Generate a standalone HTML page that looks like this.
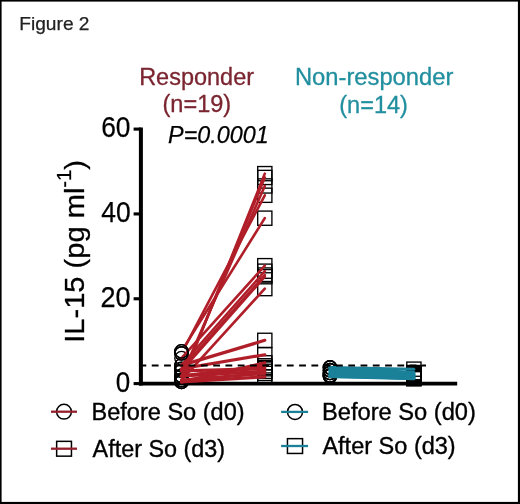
<!DOCTYPE html>
<html><head><meta charset="utf-8"><style>
html,body{margin:0;padding:0;background:#fff;}
body{width:520px;height:504px;overflow:hidden;position:relative;}
svg{position:absolute;left:0;top:0;will-change:transform;}
text{font-family:"Liberation Sans",sans-serif;}
</style></head><body>
<svg width="520" height="504" viewBox="0 0 520 504">
<rect x="0" y="0" width="520" height="504" fill="#fff"/>
<text x="19.29" y="29.5" font-size="19" fill="#222" stroke="#222" stroke-width="0.25" textLength="70.22" lengthAdjust="spacingAndGlyphs">Figure 2</text>
<text x="139.16" y="84.5" font-size="23" fill="#7a2530" stroke="#7a2530" stroke-width="0.3" textLength="114.88" lengthAdjust="spacingAndGlyphs">Responder</text>
<text x="162.48" y="112.3" font-size="23" fill="#7a2530" stroke="#7a2530" stroke-width="0.3" textLength="68.67" lengthAdjust="spacingAndGlyphs">(n=19)</text>
<text x="168.10" y="143.4" font-size="23" font-style="italic" fill="#000" stroke="#000" stroke-width="0.25" textLength="100.66" lengthAdjust="spacingAndGlyphs">P=0.0001</text>
<text x="294.94" y="84.5" font-size="23" fill="#218f9f" stroke="#218f9f" stroke-width="0.3" textLength="158.40" lengthAdjust="spacingAndGlyphs">Non-responder</text>
<text x="339.28" y="112.5" font-size="23" fill="#218f9f" stroke="#218f9f" stroke-width="0.3" textLength="68.67" lengthAdjust="spacingAndGlyphs">(n=14)</text>
<text x="91.55" y="419.9" font-size="23" fill="#000" stroke="#000" stroke-width="0.35" textLength="153.05" lengthAdjust="spacingAndGlyphs">Before So (d0)</text>
<text x="92.60" y="456.8" font-size="23" fill="#000" stroke="#000" stroke-width="0.35" textLength="132.51" lengthAdjust="spacingAndGlyphs">After So (d3)</text>
<text x="321.94" y="420.4" font-size="23" fill="#000" stroke="#000" stroke-width="0.35" textLength="153.97" lengthAdjust="spacingAndGlyphs">Before So (d0)</text>
<text x="322.40" y="454.4" font-size="23" fill="#000" stroke="#000" stroke-width="0.35" textLength="133.32" lengthAdjust="spacingAndGlyphs">After So (d3)</text>
<text x="101.22" y="137.0" font-size="30" fill="#000" stroke="#000" stroke-width="0.25" textLength="29.31" lengthAdjust="spacingAndGlyphs">60</text>
<text x="101.20" y="221.9" font-size="30" fill="#000" stroke="#000" stroke-width="0.25" textLength="29.43" lengthAdjust="spacingAndGlyphs">40</text>
<text x="100.50" y="307.2" font-size="30" fill="#000" stroke="#000" stroke-width="0.25" textLength="30.14" lengthAdjust="spacingAndGlyphs">20</text>
<text x="115.73" y="391.9" font-size="30" fill="#000" stroke="#000" stroke-width="0.25" textLength="14.46" lengthAdjust="spacingAndGlyphs">0</text>
<text transform="translate(83.6,342.7) rotate(-90)" font-size="28" fill="#000" stroke="#000" stroke-width="0.3" textLength="182.73" lengthAdjust="spacingAndGlyphs">IL-15 (pg ml<tspan font-size="19.5" dy="-12.8">-1</tspan><tspan dy="12.8">)</tspan></text>
<line x1="140.9" y1="127.4" x2="140.9" y2="385.5" stroke="#000" stroke-width="4"/>
<line x1="138.9" y1="383.6" x2="457.2" y2="383.6" stroke="#000" stroke-width="3.8"/>
<line x1="133.6" y1="129.10" x2="141" y2="129.10" stroke="#000" stroke-width="3.1"/>
<line x1="133.6" y1="213.93" x2="141" y2="213.93" stroke="#000" stroke-width="3.1"/>
<line x1="133.6" y1="298.77" x2="141" y2="298.77" stroke="#000" stroke-width="3.1"/>
<line x1="133.6" y1="383.60" x2="141" y2="383.60" stroke="#000" stroke-width="3.1"/>
<circle cx="181.5" cy="381.90" r="6.7" fill="none" stroke="#000" stroke-width="1.35"/>
<circle cx="181.5" cy="380.21" r="6.7" fill="none" stroke="#000" stroke-width="1.35"/>
<circle cx="181.5" cy="375.97" r="6.7" fill="none" stroke="#000" stroke-width="1.35"/>
<circle cx="181.5" cy="353.48" r="6.7" fill="none" stroke="#000" stroke-width="1.35"/>
<circle cx="181.5" cy="351.36" r="6.7" fill="none" stroke="#000" stroke-width="1.35"/>
<circle cx="181.5" cy="358.15" r="6.7" fill="none" stroke="#000" stroke-width="1.35"/>
<circle cx="181.5" cy="365.36" r="6.7" fill="none" stroke="#000" stroke-width="1.35"/>
<circle cx="181.5" cy="368.75" r="6.7" fill="none" stroke="#000" stroke-width="1.35"/>
<circle cx="181.5" cy="370.88" r="6.7" fill="none" stroke="#000" stroke-width="1.35"/>
<circle cx="181.5" cy="380.21" r="6.7" fill="none" stroke="#000" stroke-width="1.35"/>
<circle cx="181.5" cy="365.36" r="6.7" fill="none" stroke="#000" stroke-width="1.35"/>
<circle cx="181.5" cy="368.75" r="6.7" fill="none" stroke="#000" stroke-width="1.35"/>
<circle cx="181.5" cy="381.90" r="6.7" fill="none" stroke="#000" stroke-width="1.35"/>
<circle cx="181.5" cy="375.97" r="6.7" fill="none" stroke="#000" stroke-width="1.35"/>
<circle cx="181.5" cy="375.97" r="6.7" fill="none" stroke="#000" stroke-width="1.35"/>
<circle cx="181.5" cy="370.88" r="6.7" fill="none" stroke="#000" stroke-width="1.35"/>
<circle cx="181.5" cy="375.97" r="6.7" fill="none" stroke="#000" stroke-width="1.35"/>
<circle cx="181.5" cy="380.21" r="6.7" fill="none" stroke="#000" stroke-width="1.35"/>
<circle cx="181.5" cy="381.90" r="6.7" fill="none" stroke="#000" stroke-width="1.35"/>
<rect x="257.70" y="166.54" width="14.20" height="14.20" fill="none" stroke="#000" stroke-width="1.35"/>
<rect x="257.70" y="170.35" width="14.20" height="14.20" fill="none" stroke="#000" stroke-width="1.35"/>
<rect x="257.70" y="178.84" width="14.20" height="14.20" fill="none" stroke="#000" stroke-width="1.35"/>
<rect x="257.70" y="188.17" width="14.20" height="14.20" fill="none" stroke="#000" stroke-width="1.35"/>
<rect x="257.70" y="211.08" width="14.20" height="14.20" fill="none" stroke="#000" stroke-width="1.35"/>
<rect x="257.70" y="258.58" width="14.20" height="14.20" fill="none" stroke="#000" stroke-width="1.35"/>
<rect x="257.70" y="264.10" width="14.20" height="14.20" fill="none" stroke="#000" stroke-width="1.35"/>
<rect x="257.70" y="267.91" width="14.20" height="14.20" fill="none" stroke="#000" stroke-width="1.35"/>
<rect x="257.70" y="269.61" width="14.20" height="14.20" fill="none" stroke="#000" stroke-width="1.35"/>
<rect x="257.70" y="281.49" width="14.20" height="14.20" fill="none" stroke="#000" stroke-width="1.35"/>
<rect x="257.70" y="333.24" width="14.20" height="14.20" fill="none" stroke="#000" stroke-width="1.35"/>
<rect x="257.70" y="347.66" width="14.20" height="14.20" fill="none" stroke="#000" stroke-width="1.35"/>
<rect x="257.70" y="355.72" width="14.20" height="14.20" fill="none" stroke="#000" stroke-width="1.35"/>
<rect x="257.70" y="358.69" width="14.20" height="14.20" fill="none" stroke="#000" stroke-width="1.35"/>
<rect x="257.70" y="360.38" width="14.20" height="14.20" fill="none" stroke="#000" stroke-width="1.35"/>
<rect x="257.70" y="361.65" width="14.20" height="14.20" fill="none" stroke="#000" stroke-width="1.35"/>
<rect x="257.70" y="364.20" width="14.20" height="14.20" fill="none" stroke="#000" stroke-width="1.35"/>
<rect x="257.70" y="366.32" width="14.20" height="14.20" fill="none" stroke="#000" stroke-width="1.35"/>
<rect x="257.70" y="369.71" width="14.20" height="14.20" fill="none" stroke="#000" stroke-width="1.35"/>
<line x1="181.50" y1="381.90" x2="264.8" y2="173.64" stroke="#b01f29" stroke-width="2.6" stroke-linecap="round"/>
<line x1="181.50" y1="380.21" x2="264.8" y2="177.45" stroke="#b01f29" stroke-width="2.6" stroke-linecap="round"/>
<line x1="181.50" y1="375.97" x2="264.8" y2="185.94" stroke="#b01f29" stroke-width="2.6" stroke-linecap="round"/>
<line x1="184.94" y1="346.96" x2="264.8" y2="195.27" stroke="#b01f29" stroke-width="2.6" stroke-linecap="round"/>
<line x1="185.41" y1="345.11" x2="264.8" y2="218.18" stroke="#b01f29" stroke-width="2.6" stroke-linecap="round"/>
<line x1="181.50" y1="358.15" x2="264.8" y2="265.68" stroke="#b01f29" stroke-width="2.6" stroke-linecap="round"/>
<line x1="181.50" y1="365.36" x2="264.8" y2="271.20" stroke="#b01f29" stroke-width="2.6" stroke-linecap="round"/>
<line x1="181.50" y1="368.75" x2="264.8" y2="275.01" stroke="#b01f29" stroke-width="2.6" stroke-linecap="round"/>
<line x1="181.50" y1="370.88" x2="264.8" y2="276.71" stroke="#b01f29" stroke-width="2.6" stroke-linecap="round"/>
<line x1="181.50" y1="380.21" x2="264.8" y2="288.59" stroke="#b01f29" stroke-width="2.6" stroke-linecap="round"/>
<line x1="181.50" y1="365.36" x2="264.8" y2="340.34" stroke="#b01f29" stroke-width="3.2" stroke-linecap="round"/>
<line x1="181.50" y1="368.75" x2="264.8" y2="354.76" stroke="#b01f29" stroke-width="3.2" stroke-linecap="round"/>
<line x1="181.50" y1="381.90" x2="264.8" y2="362.82" stroke="#b01f29" stroke-width="3.2" stroke-linecap="round"/>
<line x1="181.50" y1="375.97" x2="264.8" y2="365.79" stroke="#b01f29" stroke-width="3.2" stroke-linecap="round"/>
<line x1="181.50" y1="375.97" x2="264.8" y2="367.48" stroke="#b01f29" stroke-width="3.2" stroke-linecap="round"/>
<line x1="181.50" y1="370.88" x2="264.8" y2="368.75" stroke="#b01f29" stroke-width="3.2" stroke-linecap="round"/>
<line x1="181.50" y1="375.97" x2="264.8" y2="371.30" stroke="#b01f29" stroke-width="3.2" stroke-linecap="round"/>
<line x1="181.50" y1="380.21" x2="264.8" y2="373.42" stroke="#b01f29" stroke-width="3.2" stroke-linecap="round"/>
<line x1="181.50" y1="381.90" x2="264.8" y2="376.81" stroke="#b01f29" stroke-width="3.2" stroke-linecap="round"/>
<circle cx="181.5" cy="353.48" r="6.7" fill="none" stroke="#000" stroke-width="1.35"/>
<circle cx="181.5" cy="351.36" r="6.7" fill="none" stroke="#000" stroke-width="1.35"/>
<circle cx="330.0" cy="367.48" r="6.7" fill="none" stroke="#000" stroke-width="1.35"/>
<circle cx="330.0" cy="367.48" r="6.7" fill="none" stroke="#000" stroke-width="1.35"/>
<circle cx="330.0" cy="370.24" r="6.7" fill="none" stroke="#000" stroke-width="1.35"/>
<circle cx="330.0" cy="370.24" r="6.7" fill="none" stroke="#000" stroke-width="1.35"/>
<circle cx="330.0" cy="367.48" r="6.7" fill="none" stroke="#000" stroke-width="1.35"/>
<circle cx="330.0" cy="373.00" r="6.7" fill="none" stroke="#000" stroke-width="1.35"/>
<circle cx="330.0" cy="373.00" r="6.7" fill="none" stroke="#000" stroke-width="1.35"/>
<circle cx="330.0" cy="370.24" r="6.7" fill="none" stroke="#000" stroke-width="1.35"/>
<circle cx="330.0" cy="373.00" r="6.7" fill="none" stroke="#000" stroke-width="1.35"/>
<circle cx="330.0" cy="375.54" r="6.7" fill="none" stroke="#000" stroke-width="1.35"/>
<circle cx="330.0" cy="375.54" r="6.7" fill="none" stroke="#000" stroke-width="1.35"/>
<circle cx="330.0" cy="376.39" r="6.7" fill="none" stroke="#000" stroke-width="1.35"/>
<circle cx="330.0" cy="375.54" r="6.7" fill="none" stroke="#000" stroke-width="1.35"/>
<circle cx="330.0" cy="376.39" r="6.7" fill="none" stroke="#000" stroke-width="1.35"/>
<rect x="406.80" y="362.08" width="14.20" height="14.20" fill="none" stroke="#000" stroke-width="1.35"/>
<rect x="406.80" y="365.47" width="14.20" height="14.20" fill="none" stroke="#000" stroke-width="1.35"/>
<rect x="406.80" y="365.90" width="14.20" height="14.20" fill="none" stroke="#000" stroke-width="1.35"/>
<rect x="406.80" y="366.74" width="14.20" height="14.20" fill="none" stroke="#000" stroke-width="1.35"/>
<rect x="406.80" y="367.17" width="14.20" height="14.20" fill="none" stroke="#000" stroke-width="1.35"/>
<rect x="406.80" y="368.02" width="14.20" height="14.20" fill="none" stroke="#000" stroke-width="1.35"/>
<rect x="406.80" y="368.44" width="14.20" height="14.20" fill="none" stroke="#000" stroke-width="1.35"/>
<rect x="406.80" y="368.87" width="14.20" height="14.20" fill="none" stroke="#000" stroke-width="1.35"/>
<rect x="406.80" y="369.71" width="14.20" height="14.20" fill="none" stroke="#000" stroke-width="1.35"/>
<rect x="406.80" y="370.14" width="14.20" height="14.20" fill="none" stroke="#000" stroke-width="1.35"/>
<rect x="406.80" y="370.56" width="14.20" height="14.20" fill="none" stroke="#000" stroke-width="1.35"/>
<rect x="406.80" y="370.99" width="14.20" height="14.20" fill="none" stroke="#000" stroke-width="1.35"/>
<rect x="406.80" y="371.41" width="14.20" height="14.20" fill="none" stroke="#000" stroke-width="1.35"/>
<rect x="406.80" y="371.62" width="14.20" height="14.20" fill="none" stroke="#000" stroke-width="1.35"/>
<line x1="330.00" y1="367.48" x2="413.9" y2="369.18" stroke="#1a8199" stroke-width="3.0" stroke-linecap="round"/>
<line x1="330.00" y1="367.48" x2="413.9" y2="372.57" stroke="#1a8199" stroke-width="3.0" stroke-linecap="round"/>
<line x1="330.00" y1="370.24" x2="413.9" y2="373.00" stroke="#1a8199" stroke-width="3.0" stroke-linecap="round"/>
<line x1="330.00" y1="370.24" x2="413.9" y2="373.84" stroke="#1a8199" stroke-width="3.0" stroke-linecap="round"/>
<line x1="330.00" y1="367.48" x2="413.9" y2="374.27" stroke="#1a8199" stroke-width="3.0" stroke-linecap="round"/>
<line x1="330.00" y1="373.00" x2="413.9" y2="375.12" stroke="#1a8199" stroke-width="3.0" stroke-linecap="round"/>
<line x1="330.00" y1="373.00" x2="413.9" y2="375.54" stroke="#1a8199" stroke-width="3.0" stroke-linecap="round"/>
<line x1="330.00" y1="370.24" x2="413.9" y2="375.97" stroke="#1a8199" stroke-width="3.0" stroke-linecap="round"/>
<line x1="330.00" y1="373.00" x2="413.9" y2="376.81" stroke="#1a8199" stroke-width="3.0" stroke-linecap="round"/>
<line x1="330.00" y1="375.54" x2="413.9" y2="377.24" stroke="#1a8199" stroke-width="3.0" stroke-linecap="round"/>
<line x1="330.00" y1="375.54" x2="413.9" y2="377.66" stroke="#1a8199" stroke-width="3.0" stroke-linecap="round"/>
<line x1="330.00" y1="376.39" x2="413.9" y2="378.09" stroke="#1a8199" stroke-width="3.0" stroke-linecap="round"/>
<line x1="330.00" y1="375.54" x2="413.9" y2="378.51" stroke="#1a8199" stroke-width="3.0" stroke-linecap="round"/>
<line x1="330.00" y1="376.39" x2="413.9" y2="378.72" stroke="#1a8199" stroke-width="3.0" stroke-linecap="round"/>
<line x1="139.5" y1="365.5" x2="426" y2="365.5" stroke="#000" stroke-width="2" stroke-dasharray="6.8 5.48"/>
<!-- legend -->
<circle cx="64" cy="411.7" r="7.4" fill="none" stroke="#000" stroke-width="1.5"/>
<line x1="51" y1="411.7" x2="77" y2="411.7" stroke="#93202c" stroke-width="2.3"/>
<rect x="56.65" y="441.35" width="14.8" height="14.8" fill="none" stroke="#000" stroke-width="1.5"/>
<line x1="51" y1="448.7" x2="77" y2="448.7" stroke="#93202c" stroke-width="2.3"/>
<circle cx="295" cy="411.9" r="7.5" fill="none" stroke="#000" stroke-width="1.5"/>
<line x1="281.1" y1="411.9" x2="308.1" y2="411.9" stroke="#1a8199" stroke-width="2.3"/>
<rect x="287.45" y="438.65" width="15.1" height="14.8" fill="none" stroke="#000" stroke-width="1.5"/>
<line x1="281.1" y1="446" x2="308.1" y2="446" stroke="#1a8199" stroke-width="2.3"/>
<!-- frame -->
<rect x="0.8" y="0.8" width="517.9" height="501.9" fill="none" stroke="#000" stroke-width="1.6"/>
<rect x="518" y="0" width="2" height="504" fill="#000"/>
<rect x="0" y="502" width="520" height="2" fill="#000"/>
</svg>
</body></html>
